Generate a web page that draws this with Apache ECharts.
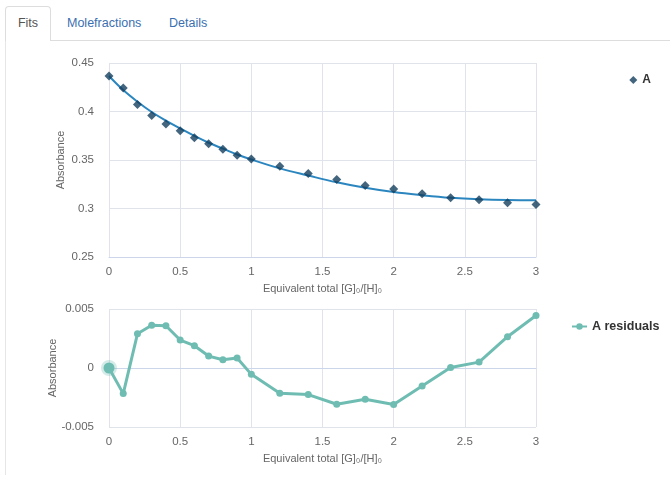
<!DOCTYPE html>
<html>
<head>
<meta charset="utf-8">
<script src="https://cdn.jsdelivr.net/npm/echarts@6/dist/echarts.min.js"></script>
<style>
  html, body { margin: 0; padding: 0; background: #fff; }
  body { width: 670px; height: 477px; position: relative; overflow: hidden;
         font-family: "Liberation Sans", Arial, sans-serif; }
  .tabs { position: absolute; left: 0; top: 0; width: 670px; height: 41px; }
  .tabline { position: absolute; left: 50px; top: 40px; width: 620px; height: 1px; background: #ddd; }
  .tab { position: absolute; top: 16px; font-size: 12.5px; color: #3a6fb0; }
  .tab.active { color: #555; left: 5px; top: 6px; width: 44px; height: 34px;
                border: 1px solid #ddd; border-bottom: none; border-radius: 4px 4px 0 0;
                background: #fff; text-align: center; line-height: 33px; }
  .panel { position: absolute; left: 5px; top: 41px; width: 1px; height: 434px; background: #e6e6e6; }
  #chart { position: absolute; left: 0; top: 0; width: 670px; height: 477px; }
</style>
</head>
<body>
<div class="tabs">
  <div class="tabline"></div>
  <div class="tab active">Fits</div>
  <div class="tab" style="left:67px">Molefractions</div>
  <div class="tab" style="left:169px">Details</div>
</div>
<div class="panel"></div>
<div id="chart"></div>
<script>
// Titration points: equivalents of guest added
const equivalents = [0, 0.1, 0.2, 0.3, 0.4, 0.5, 0.6, 0.7, 0.8, 0.9, 1.0,
                     1.2, 1.4, 1.6, 1.8, 2.0, 2.2, 2.4, 2.6, 2.8, 3.0];
// Measured absorbance
const absorbanceA = [0.4366, 0.4243, 0.4072, 0.3959, 0.3870, 0.3801, 0.3729, 0.3668, 0.3610, 0.3548, 0.3510,
                     0.3435, 0.3362, 0.3300, 0.3238, 0.3200, 0.3152, 0.3110, 0.3090, 0.3059, 0.3041];
// Fitted absorbance curve
const fitA = [0.4366, 0.4221, 0.4101, 0.3995, 0.3906, 0.3825, 0.3748, 0.3678, 0.3617, 0.3557, 0.3505,
              0.3414, 0.3340, 0.3270, 0.3213, 0.3169, 0.3137, 0.3111, 0.3095, 0.3087, 0.3085];
// Residuals of the fit
const residualsA = [0, -0.00217, 0.0029, 0.00363, 0.00358, 0.00237, 0.00189, 0.00101, 0.0007, 0.00085, -0.00054,
                    -0.00214, -0.00225, -0.00307, -0.00265, -0.0031, -0.00152, 0.00005, 0.0005, 0.00265, 0.00445];

const xTitle = 'Equivalent total [G]\u2080/[H]\u2080';
const yTitle = 'Absorbance';

const pair = (xs, ys) => xs.map((x, i) => [x, ys[i]]);

const axisText = { color: '#666', fontSize: 11.5, fontFamily: 'Liberation Sans, Arial, sans-serif' };
const gridLine = { show: true, lineStyle: { color: '#e0e4ea', width: 1 } };

function xAxisFor(gridIndex) {
  return {
    gridIndex, type: 'value', min: 0, max: 3, interval: 0.5,
    name: xTitle, nameLocation: 'middle', nameGap: 26, nameMoveOverlap: false,
    nameTextStyle: { color: '#666', fontSize: 11 },
    axisLine: { show: true, lineStyle: { color: '#ccd6eb' } },
    axisTick: { show: false },
    splitLine: gridLine,
    axisLabel: Object.assign({ margin: 9 }, axisText)
  };
}

const chart = echarts.init(document.getElementById('chart'), null, { renderer: 'canvas' });

const residualColor = '#6fbdb2';

chart.setOption({
  animation: false,
  grid: [
    { left: 109, right: 134, top: 63, height: 194 },
    { left: 109, right: 134, top: 309, height: 118 }
  ],
  legend: [
    {
      data: [{ name: 'A', icon: 'diamond' }],
      right: 14, top: 69, itemWidth: 8, itemHeight: 8, itemGap: 5,
      textStyle: { color: '#333', fontWeight: 'bold', fontSize: 12 }
    },
    {
      data: ['A residuals'],
      left: 566, top: 315, itemWidth: 15, itemHeight: 8, itemGap: 3,
      textStyle: { color: '#333', fontWeight: 'bold', fontSize: 12.5 }
    }
  ],
  xAxis: [xAxisFor(0), xAxisFor(1)],
  yAxis: [
    {
      gridIndex: 0, type: 'value', min: 0.25, max: 0.45, interval: 0.05,
      name: yTitle, nameLocation: 'middle', nameGap: 43, nameMoveOverlap: false,
      nameTextStyle: { color: '#666', fontSize: 11 },
      axisLine: { show: false }, axisTick: { show: false },
      splitLine: gridLine,
      axisLabel: Object.assign({ margin: 15 }, axisText)
    },
    {
      gridIndex: 1, type: 'value', min: -0.005, max: 0.005, interval: 0.005,
      name: yTitle, nameLocation: 'middle', nameGap: 51, nameMoveOverlap: false,
      nameTextStyle: { color: '#666', fontSize: 11 },
      axisLine: { show: false }, axisTick: { show: false },
      splitLine: gridLine,
      axisLabel: Object.assign({ margin: 15 }, axisText)
    }
  ],
  series: [
    {
      name: 'A', type: 'scatter', xAxisIndex: 0, yAxisIndex: 0,
      data: pair(equivalents, absorbanceA),
      symbol: 'diamond', symbolSize: 9,
      itemStyle: { color: '#143f5e' }, z: 3
    },
    {
      name: 'A fit', type: 'line', xAxisIndex: 0, yAxisIndex: 0,
      data: pair(equivalents, fitA),
      smooth: 0.4, showSymbol: false,
      lineStyle: { color: '#2b86bf', width: 2 }, z: 2
    },
    {
      name: 'A residuals', type: 'line', xAxisIndex: 1, yAxisIndex: 1,
      data: pair(equivalents, residualsA).map((p, i) => i === 0
        ? { value: p, symbolSize: 11,
            itemStyle: { color: residualColor, borderColor: 'rgba(111,189,178,0.3)', borderWidth: 5 } }
        : p),
      symbol: 'circle', symbolSize: 7,
      itemStyle: { color: residualColor },
      lineStyle: { color: residualColor, width: 3 }
    }
  ]
});
</script>
</body>
</html>
